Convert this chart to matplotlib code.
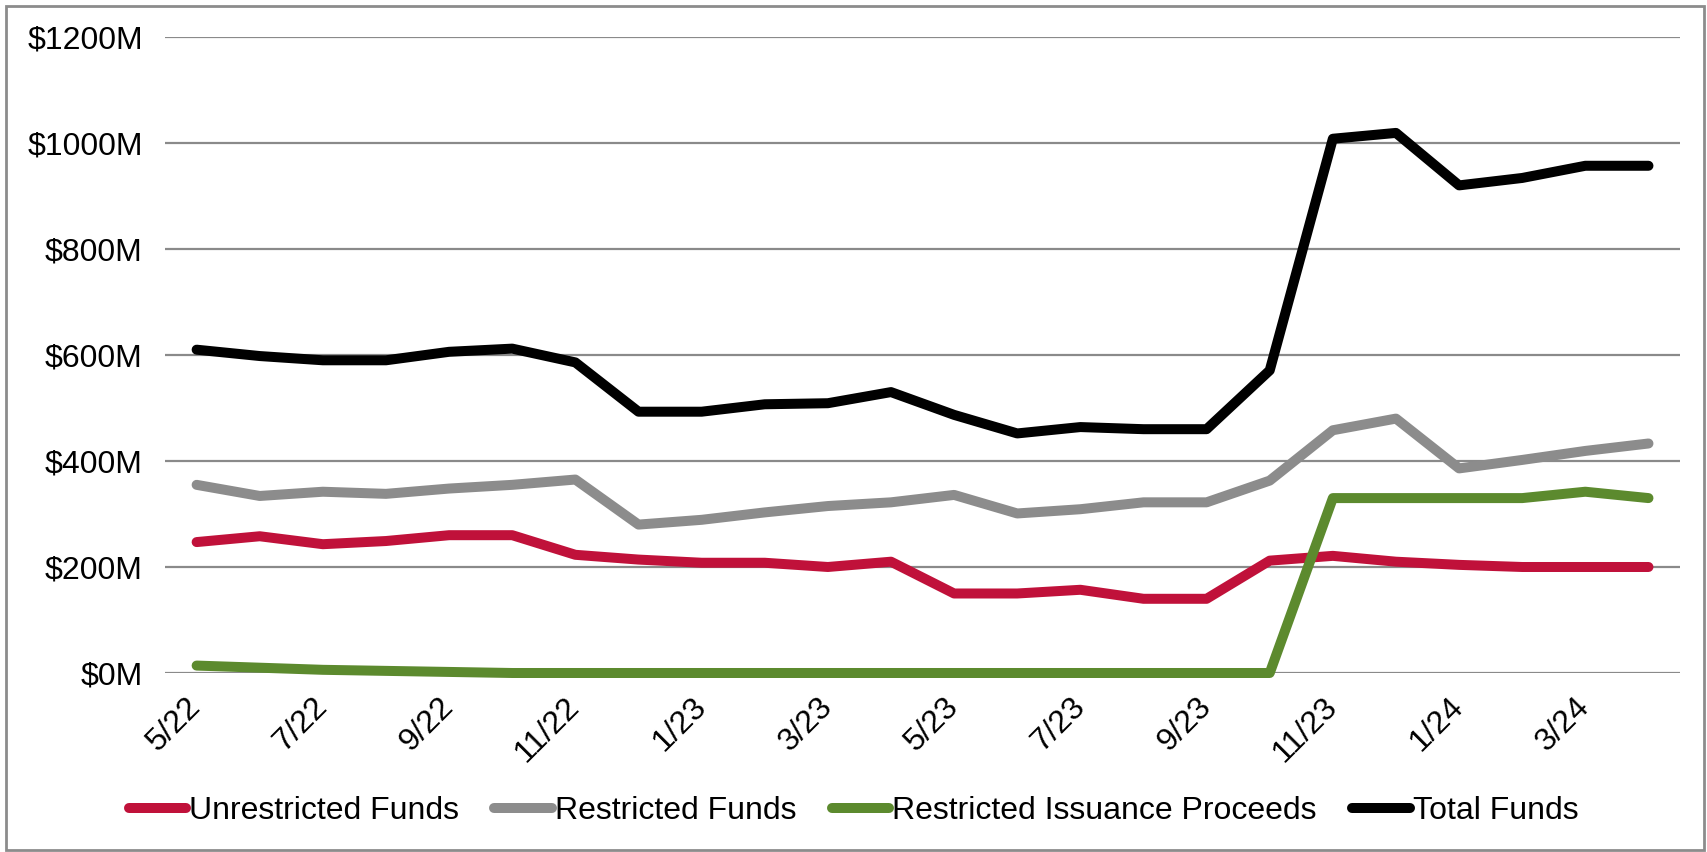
import matplotlib
matplotlib.use("Agg")
import matplotlib.pyplot as plt
from matplotlib.patches import Rectangle
from matplotlib.transforms import ScaledTranslation

# Месяцы по оси X
months = ["5/22", "6/22", "7/22", "8/22", "9/22", "10/22", "11/22", "12/22",
          "1/23", "2/23", "3/23", "4/23", "5/23", "6/23", "7/23", "8/23",
          "9/23", "10/23", "11/23", "12/23", "1/24", "2/24", "3/24", "4/24"]

# Значения рядов, $M
unrestricted = [247, 258, 243, 249, 260, 260, 223, 214, 208, 208, 200, 210,
                150, 150, 157, 140, 140, 212, 221, 210, 204, 200, 200, 200]
restricted = [355, 334, 342, 338, 348, 355, 365, 280, 289, 303, 315, 322,
              336, 301, 309, 322, 322, 363, 458, 480, 386, 402, 419, 433]
issuance = [14, 10, 6, 4, 2, 0, 0, 0, 0, 0, 0, 0,
            0, 0, 0, 0, 0, 0, 330, 330, 330, 330, 342, 330]
total = [610, 598, 590, 590, 606, 612, 586, 493, 493, 507, 509, 530,
         487, 452, 464, 460, 460, 571, 1008, 1019, 920, 934, 957, 957]

y_ticks = [0, 200, 400, 600, 800, 1000, 1200]

plt.rcParams['font.family'] = ['Liberation Sans', 'DejaVu Sans']

fig = plt.figure(figsize=(17.07, 8.52), dpi=100)
ax = fig.add_axes([0.0967, 0.2101, 0.9842 - 0.0967, 0.9566 - 0.2101])

x = list(range(len(months)))
series = [
    (unrestricted, "Unrestricted Funds", "#C0113A"),
    (restricted, "Restricted Funds", "#8C8C8C"),
    (issuance, "Restricted Issuance Proceeds", "#5C8A2E"),
    (total, "Total Funds", "#000000"),
]
for vals, name, col in series:
    ax.plot(x, vals, color=col, lw=7.2, label=name, solid_capstyle='round',
            solid_joinstyle='round', clip_on=False, zorder=3)

ax.set_xlim(-0.5, len(months) - 0.5)
ax.set_ylim(0, 1200)
ax.set_yticks(y_ticks)
ax.set_yticklabels([f"${v}M" for v in y_ticks], fontsize=23)
ax.grid(axis='y', color='#8A8A8A', lw=1.6, zorder=1)
ax.set_axisbelow(True)

ax.set_xticks(x[::2])
ax.set_xticklabels(months[::2], fontsize=23, rotation=45, ha='right',
                   va='center', rotation_mode='anchor')
# Сдвиг подписей вправо, как в Excel
shift = ScaledTranslation(0.17, 0, fig.dpi_scale_trans)
for lab in ax.get_xticklabels():
    lab.set_transform(lab.get_transform() + shift)
ax.tick_params(axis='x', length=0, pad=21)
ax.tick_params(axis='y', length=0, pad=16)
for s in ax.spines.values():
    s.set_visible(False)

fig.legend(loc='center', bbox_to_anchor=(0.5, 0.048), ncol=4, frameon=False,
           fontsize=23, handlelength=1.8, handletextpad=0.1, columnspacing=1.1)

# Рамка вокруг всей диаграммы
fig.patches.append(Rectangle((6 / 1707, 2 / 852), 1698 / 1707, 844 / 852,
                             transform=fig.transFigure, fill=False,
                             edgecolor='#8C8C8C', lw=2))

fig.savefig("out.png", dpi=100)
